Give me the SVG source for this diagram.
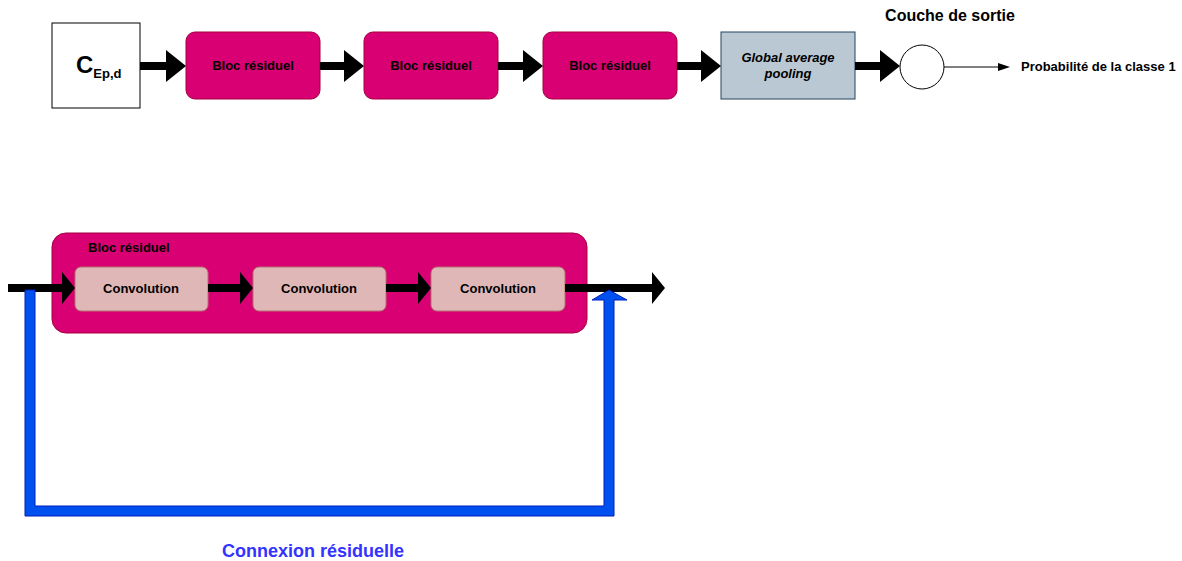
<svg xmlns="http://www.w3.org/2000/svg" width="1182" height="561" viewBox="0 0 1182 561">
<style>
text{font-family:"Liberation Sans",Arial,sans-serif;font-weight:bold;fill:#000}
.bloc{fill:#d80073;stroke:#a50040;stroke-width:1}
.conv{fill:#dfb7b6;stroke:#b5736f;stroke-width:1}
.shaft{stroke:#000;stroke-width:8;fill:none}
.head{fill:#000}
.t13{font-size:13px;text-anchor:middle}
</style>
<rect width="1182" height="561" fill="#fff"/>
<g id="input">
  <rect x="52" y="23" width="88" height="85" fill="#fff" stroke="#000" stroke-width="1"/>
  <text x="76" y="73" font-size="24">C<tspan font-size="13" dy="5">Ep,d</tspan></text>
</g>
<g id="bloc1"><rect class="bloc" x="186" y="32" width="134" height="67" rx="9"/><text class="t13" x="253" y="70">Bloc résiduel</text></g>
<g id="bloc2"><rect class="bloc" x="364" y="32" width="134" height="67" rx="9"/><text class="t13" x="431" y="70">Bloc résiduel</text></g>
<g id="bloc3"><rect class="bloc" x="543" y="32" width="134" height="67" rx="9"/><text class="t13" x="610" y="70">Bloc résiduel</text></g>
<g id="gap">
  <rect x="721" y="32" width="134" height="67" fill="#bac8d3" stroke="#23445d" stroke-width="1"/>
  <text class="t13" x="788" y="62" font-style="italic">Global average</text>
  <text class="t13" x="788" y="78" font-style="italic">pooling</text>
</g>
<g id="output">
  <text x="950" y="21" font-size="16" text-anchor="middle">Couche de sortie</text>
  <circle cx="922" cy="67" r="22" fill="#fff" stroke="#000" stroke-width="1"/>
</g>
<g id="proba"><text x="1021" y="71" font-size="13">Probabilité de la classe 1</text></g>
<g id="blocDetail">
  <rect class="bloc" x="52" y="233" width="535" height="100" rx="14"/>
  <text x="88" y="252" font-size="13">Bloc résiduel</text>
</g>
<g id="conv1"><rect class="conv" x="75" y="267" width="133" height="44" rx="6"/><text class="t13" x="141" y="293">Convolution</text></g>
<g id="conv2"><rect class="conv" x="253" y="267" width="133" height="44" rx="6"/><text class="t13" x="319" y="293">Convolution</text></g>
<g id="conv3"><rect class="conv" x="431" y="267" width="134" height="44" rx="6"/><text class="t13" x="498" y="293">Convolution</text></g>
<g id="residualLabel"><text x="313" y="557" font-size="18" text-anchor="middle" style="fill:#3333ff">Connexion résiduelle</text></g>
<g id="connectors">
  <path class="shaft" d="M140 66H168M320 66H346M498 66H525M677 66H703M855 66H882"/>
  <polygon class="head" points="166,50 186,66 166,82"/>
  <polygon class="head" points="344,50 364,66 344,82"/>
  <polygon class="head" points="523,50 543,66 523,82"/>
  <polygon class="head" points="701,50 721,66 701,82"/>
  <polygon class="head" points="880,50 900,66 880,82"/>
  <line x1="944" y1="67" x2="1000" y2="67" stroke="#000" stroke-width="1"/>
  <polygon class="head" points="998,63 1010,67 998,71"/>
  <path class="shaft" d="M8 288H64M208 288H242M386 288H420M565 288H654"/>
  <polygon class="head" points="62,272 75,288 62,304"/>
  <polygon class="head" points="240,272 253,288 240,304"/>
  <polygon class="head" points="418,272 431,288 418,304"/>
  <polygon class="head" points="652,272 665,288 652,304"/>
  <polygon id="residual" points="25,290 35,290 35,506 604,506 604,300 592,300 609,290 627,300 614,300 614,516 25,516" fill="#0050ef" stroke="#001dbc" stroke-width="1"/>
</g>
</svg>
